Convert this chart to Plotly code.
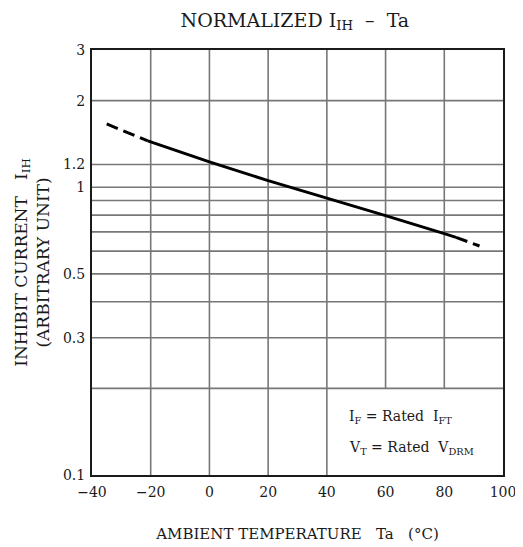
import plotly.graph_objects as go

# Data
temps = [-35, -21, 0, 20, 40, 60, 80, 84, 92]
inhibit = [1.66, 1.45, 1.225, 1.055, 0.918, 0.797, 0.69, 0.67, 0.625]
solid_idx = (1, 7)  # solid between these indices, dashed outside

x_ticks = [-40, -20, 0, 20, 40, 60, 80, 100]
x_ticktext = ["\u221240", "\u221220", "0", "20", "40", "60", "80", "100"]
y_ticks = [0.1, 0.3, 0.5, 1, 1.2, 2, 3]
y_ticktext = ["0.1", "0.3", "0.5", "1", "1.2", "2", "3"]
y_grid = [0.2, 0.3, 0.4, 0.5, 0.6, 0.7, 0.8, 0.9, 1, 1.2, 2]
x_min, x_max = -40, 100
y_min, y_max = 0.1, 3
note_box_x = 40      # condition note box occupies x >= 40, y <= 0.2
note_box_y = 0.2

FONT = "DejaVu Serif"
INK = "#1a1a1a"
GRID = "#777777"

fig = go.Figure()

# grid lines drawn as traces (vertical lines right of the note box stop at its top)
gx, gy = [], []
for t in x_ticks[1:-1]:
    y_low = note_box_y if t > note_box_x else y_min
    gx += [t, t, None]
    gy += [y_low, y_max, None]
for v in y_grid:
    gx += [x_min, x_max, None]
    gy += [v, v, None]
fig.add_trace(go.Scatter(x=gx, y=gy, mode="lines", line=dict(color=GRID, width=1.6),
                         hoverinfo="skip", showlegend=False))

a, b = solid_idx
line_style = dict(color="black", width=3)
fig.add_trace(go.Scatter(x=temps[:a + 1], y=inhibit[:a + 1], mode="lines",
                         line=dict(**line_style, dash="12px,6px"), showlegend=False))
fig.add_trace(go.Scatter(x=temps[a:b + 1], y=inhibit[a:b + 1], mode="lines",
                         line=line_style, showlegend=False))
fig.add_trace(go.Scatter(x=temps[b:], y=inhibit[b:], mode="lines",
                         line=dict(**line_style, dash="12px,6px"), showlegend=False))

# page body adds an 8px margin, so the figure is 8px smaller on each side
fig.update_layout(
    width=515, height=539,
    margin=dict(l=84, r=20, t=42, b=72, autoexpand=False),
    paper_bgcolor="white", plot_bgcolor="white",
    font=dict(family=FONT, color=INK, size=14),
    title=dict(text="NORMALIZED I<sub>IH</sub>  \u2013  Ta", x=0.557, xanchor="center",
               y=0.978, yanchor="middle", font=dict(size=19, family=FONT, color=INK)),
    showlegend=False,
)
fig.update_xaxes(
    range=[x_min, x_max], tickvals=x_ticks, ticktext=x_ticktext,
    showgrid=False, automargin=False,
    showline=True, linecolor=INK, linewidth=2, mirror=True,
    ticks="", zeroline=False, ticklabelstandoff=3,
    tickfont=dict(size=14, family=FONT, color=INK),
    title=dict(text="AMBIENT TEMPERATURE   Ta   (\u00b0C)",
               font=dict(size=15, family=FONT, color=INK), standoff=30),
)
fig.update_yaxes(
    type="log", range=[-1, 0.47712], tickvals=y_ticks, ticktext=y_ticktext,
    showgrid=False, automargin=False,
    showline=True, linecolor=INK, linewidth=2, mirror=True,
    ticks="", zeroline=False, ticklabelstandoff=2,
    tickfont=dict(size=14, family=FONT, color=INK),
    title=dict(text="INHIBIT CURRENT   I<sub>IH</sub><br>(ARBITRARY UNIT)",
               font=dict(size=17, family=FONT, color=INK), standoff=9),
)
fig.add_annotation(text="I<sub>F</sub> = Rated  I<sub>FT</sub>", xref="paper", yref="paper",
                   x=0.62, y=0.136, xanchor="left", yanchor="middle", showarrow=False,
                   font=dict(size=14, family=FONT, color=INK))
fig.add_annotation(text="V<sub>T</sub> = Rated  V<sub>DRM</sub>", xref="paper", yref="paper",
                   x=0.62, y=0.064, xanchor="left", yanchor="middle", showarrow=False,
                   font=dict(size=14, family=FONT, color=INK))

fig.write_html("out.html")
